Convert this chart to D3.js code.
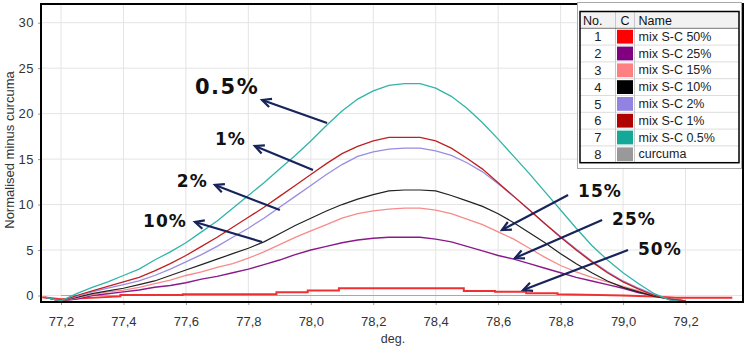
<!DOCTYPE html>
<html><head><meta charset="utf-8">
<script src="https://cdnjs.cloudflare.com/ajax/libs/d3/7.8.5/d3.min.js"></script>
<style>
html,body{margin:0;padding:0;background:#fff;}
svg{display:block;font-family:"Liberation Sans",Arial,sans-serif;}
</style></head>
<body>
<svg id="chart" width="751" height="349"></svg>
<script>
// ---------- DATA ----------
const temps = [77.15,77.20,77.25,77.30,77.35,77.40,77.45,77.50,77.55,77.60,77.65,77.70,77.75,77.80,77.85,77.90,77.95,78.00,78.05,78.10,78.15,78.20,78.25,78.30,78.35,78.40,78.45,78.50,78.55,78.60,78.65,78.70,78.75,78.80,78.85,78.90,78.95,79.00,79.05,79.10,79.15,79.20];
const mix25  = [-0.2,-0.6,-0.4,0.0,0.2,0.4,0.6,0.9,1.1,1.4,1.8,2.1,2.5,2.9,3.4,3.9,4.5,5.0,5.4,5.8,6.1,6.3,6.4,6.4,6.4,6.2,5.9,5.4,4.9,4.4,4.0,3.5,3.0,2.5,2.0,1.6,1.2,0.8,0.3,0.0,-0.4,-0.6];
const mix15  = [-0.2,-0.6,-0.3,0.1,0.4,0.6,0.9,1.3,1.7,2.2,2.6,3.1,3.5,4.1,4.8,5.6,6.4,7.1,7.8,8.5,9.0,9.3,9.5,9.6,9.6,9.4,9.0,8.4,7.8,7.0,6.2,5.2,4.2,3.3,2.6,2.0,1.5,1.0,0.5,0.0,-0.4,-0.6];
const mix10  = [-0.2,-0.6,-0.2,0.2,0.5,0.8,1.2,1.6,2.2,2.8,3.4,4.0,4.6,5.2,5.9,6.8,7.7,8.5,9.3,10.0,10.6,11.1,11.5,11.6,11.6,11.5,11.0,10.4,9.8,9.0,8.0,6.9,5.8,4.6,3.5,2.5,1.6,0.9,0.4,-0.1,-0.4,-0.6];
const mix2   = [-0.2,-0.6,-0.1,0.4,0.8,1.2,1.6,2.2,2.9,3.7,4.5,5.4,6.4,7.4,8.5,9.7,10.9,12.1,13.3,14.4,15.3,15.8,16.1,16.2,16.2,15.9,15.4,14.6,13.6,12.3,10.9,9.4,7.9,6.5,5.1,3.8,2.6,1.6,0.8,0.1,-0.4,-0.6];
const mix1   = [-0.2,-0.6,0.0,0.5,1.0,1.5,2.0,2.7,3.5,4.4,5.4,6.4,7.5,8.6,9.7,10.9,12.1,13.3,14.5,15.6,16.4,17.0,17.4,17.4,17.4,17.0,16.2,15.1,13.9,12.4,10.9,9.4,7.9,6.4,5.0,3.7,2.5,1.5,0.7,0.0,-0.4,-0.6];
const mix05  = [-0.2,-0.6,0.2,0.9,1.5,2.2,2.9,3.9,4.8,5.8,7.0,8.2,9.6,11.0,12.4,13.9,15.4,17.0,18.7,20.3,21.6,22.5,23.1,23.3,23.3,22.8,21.9,20.6,19.0,17.2,15.3,13.4,11.4,9.4,7.4,5.5,3.9,2.5,1.3,0.2,-0.5,-0.7];
// stepped 50% trace (own temperature points)
const temps50 = [77.14,77.20,77.39,77.39,77.59,77.59,77.89,77.89,77.99,77.99,78.09,78.09,78.49,78.49,78.59,78.59,78.69,78.69,78.79,78.79,79.00,79.10,79.17,79.35];
const mix50   = [-0.2,-0.4,-0.1,0.05,0.05,0.15,0.15,0.35,0.35,0.55,0.55,0.8,0.8,0.5,0.5,0.4,0.4,0.25,0.25,0.15,0.0,-0.1,-0.25,-0.25];
const tempsCurcuma = [77.20,79.00];
const curcuma = [0.0,0.0];

const legendNo    = ["1","2","3","4","5","6","7","8"];
const legendNames = ["mix S-C 50%","mix S-C 25%","mix S-C 15%","mix S-C 10%","mix S-C 2%","mix S-C 1%","mix S-C 0.5%","curcuma"];
const legendColors = ["#ff0000","#800080","#ff8080","#000000","#9282e2","#b00000","#14a898","#999999"];

const xTicks = [77.2,77.4,77.6,77.8,78.0,78.2,78.4,78.6,78.8,79.0,79.2];
const yTicks = [0,5,10,15,20,25,30];

const annoLabels = ["0.5%","1%","2%","10%","15%","25%","50%"];
// arrow tail/head in data units [tailT, tailV, headT, headV]
const annoArrows = [
  [78.052,18.97, 77.844,21.50],
  [78.007,13.80, 77.821,16.44],
  [77.901,9.40, 77.693,12.15],
  [77.844,5.88, 77.629,8.08],
  [78.824,11.05, 78.612,7.20],
  [78.933,8.30, 78.654,4.12],
  [79.016,5.00, 78.680,0.60]
];
// label left/baseline in data units
const annoPos = [[77.629,22.16],[77.693,16.55],[77.571,11.93],[77.463,7.53],[78.856,10.83],[78.965,7.75],[79.048,4.45]];
const annoSize = [21,17,17,17,17,17,17];

// ---------- SCALES ----------
const svg = d3.select("#chart");
const x = d3.scaleLinear().domain([77.2,79.2]).range([61,685.5]);
const y = d3.scaleLinear().domain([0,30]).range([295.5,22.7]);
const F = {l:41,t:4,r:743,b:302};

// grid
const g = svg.append("g");
g.selectAll(".vg").data(xTicks).enter().append("line")
  .attr("x1",d=>x(d)).attr("x2",d=>x(d)).attr("y1",F.t).attr("y2",F.b)
  .attr("stroke","#e4e4e4").attr("stroke-width",1);
g.selectAll(".hg").data(yTicks).enter().append("line")
  .attr("x1",F.l).attr("x2",F.r).attr("y1",d=>y(d)).attr("y2",d=>y(d))
  .attr("stroke","#e4e4e4").attr("stroke-width",1);

// axes
const fmt = d=>d3.format(".1f")(d).replace(".",",");
const xa = svg.append("g").attr("transform",`translate(0,${F.b})`)
  .call(d3.axisBottom(x).tickValues(xTicks).tickFormat(fmt).tickSize(3).tickPadding(12));
const ya = svg.append("g").attr("transform",`translate(${F.l},0)`)
  .call(d3.axisLeft(y).tickValues(yTicks).tickSize(3).tickPadding(4));
[xa,ya].forEach(a=>{
  a.select(".domain").remove();
  a.selectAll("line").attr("stroke","#999");
  a.selectAll("text").attr("fill","#333").style("font-size","13px").style("font-family","Liberation Sans, Arial, sans-serif");
});
ya.selectAll("text").attr("letter-spacing","0.5");

svg.append("text").attr("x",393).attr("y",343).attr("text-anchor","middle")
  .attr("fill","#333").style("font-size","12.5px").text("deg.");
svg.append("text").attr("transform","translate(14,150) rotate(-90)").attr("text-anchor","middle")
  .attr("fill","#333").style("font-size","13px").text("Normalised minus curcuma");

// clip
svg.append("clipPath").attr("id","clip").append("rect")
  .attr("x",F.l+1).attr("y",F.t+1).attr("width",F.r-F.l-2).attr("height",F.b-F.t-2);

const line = d3.line().x(d=>x(d[0])).y(d=>y(d[1]));
const plot = svg.append("g").attr("clip-path","url(#clip)");
const series = [
  {t:tempsCurcuma, v:curcuma, c:"#a8a8a8", w:1},
  {t:temps50, v:mix50, c:"#f03030", w:2},
  {t:temps, v:mix25, c:"#8a1a8a", w:1.4},
  {t:temps, v:mix15, c:"#f88a8a", w:1.3},
  {t:temps, v:mix10, c:"#222222", w:1.2},
  {t:temps, v:mix2,  c:"#9a8ce0", w:1.3},
  {t:temps, v:mix1,  c:"#c02020", w:1.3},
  {t:temps, v:mix05, c:"#30b4a8", w:1.3}
];
series.forEach(s=>{
  plot.append("path").datum(s.t.map((t,i)=>[t,s.v[i]]))
    .attr("d",line).attr("fill","none").attr("stroke",s.c).attr("stroke-width",s.w);
});

// frame
svg.append("rect").attr("x",F.l).attr("y",F.t).attr("width",F.r-F.l).attr("height",F.b-F.t)
  .attr("fill","none").attr("stroke","#000").attr("stroke-width",2);

// arrows
const ac = "#17245c";
const ann = svg.append("g");
annoArrows.forEach((a,i)=>{
  const x1=x(a[0]),y1=y(a[1]),x2=x(a[2]),y2=y(a[3]);
  ann.append("line").attr("x1",x1).attr("y1",y1).attr("x2",x2).attr("y2",y2)
    .attr("stroke",ac).attr("stroke-width",2.2);
  const ang=Math.atan2(y1-y2,x1-x2), L=10, s=0.45;
  const p1=[x2+L*Math.cos(ang+s), y2+L*Math.sin(ang+s)];
  const p2=[x2+L*Math.cos(ang-s), y2+L*Math.sin(ang-s)];
  ann.append("path").attr("d",`M${p1[0]},${p1[1]}L${x2},${y2}L${p2[0]},${p2[1]}`)
    .attr("fill","none").attr("stroke",ac).attr("stroke-width",2.2).attr("stroke-linejoin","miter");
  ann.append("text").attr("x",x(annoPos[i][0])).attr("y",y(annoPos[i][1]))
    .attr("fill","#111").style("font-family","DejaVu Sans, Verdana, sans-serif")
    .style("font-weight","bold").style("font-size",annoSize[i]+"px")
    .attr("letter-spacing", i===0?"1.5":"1").text(annoLabels[i]);
});

// legend
const lg = svg.append("g");
const LX0=580, LX1=739, LT=11.5, HH=16.8, RH=16.8, C1=615.5, C2=634.5;
lg.append("rect").attr("x",577.5).attr("y",2.5).attr("width",164).attr("height",166)
  .attr("fill","#fff").attr("stroke","#a8a8a8").attr("stroke-width",1);
lg.append("rect").attr("x",LX0).attr("y",LT).attr("width",LX1-LX0).attr("height",HH)
  .attr("fill","#f2f2f2");
const rowsTop = LT+HH;
legendNo.forEach((n,i)=>{
  const ry = rowsTop + i*RH;
  lg.append("line").attr("x1",LX0).attr("x2",LX1).attr("y1",ry+RH).attr("y2",ry+RH)
    .attr("stroke","#dcdcdc");
  lg.append("rect").attr("x",C1+1.5).attr("y",ry+1.5).attr("width",C2-C1-3).attr("height",RH-3)
    .attr("fill",legendColors[i]);
  lg.append("text").attr("x",(LX0+C1)/2).attr("y",ry+13).attr("text-anchor","middle")
    .attr("fill","#222").style("font-size","13px").text(n);
  lg.append("text").attr("x",C2+4).attr("y",ry+12.5)
    .attr("fill","#222").style("font-size","12.5px").text(legendNames[i]);
});
[C1,C2].forEach(cx=>lg.append("line").attr("x1",cx).attr("x2",cx).attr("y1",LT).attr("y2",rowsTop+8*RH).attr("stroke","#c8c8c8"));
lg.append("line").attr("x1",LX0).attr("x2",LX1).attr("y1",rowsTop).attr("y2",rowsTop).attr("stroke","#777");
lg.append("rect").attr("x",LX0).attr("y",LT).attr("width",LX1-LX0).attr("height",HH+8*RH)
  .attr("fill","none").attr("stroke","#000").attr("stroke-width",1.5);
lg.append("text").attr("x",LX0+3).attr("y",LT+13).attr("fill","#111").style("font-size","12.5px").text("No.");
lg.append("text").attr("x",(C1+C2)/2).attr("y",LT+13).attr("text-anchor","middle").attr("fill","#111").style("font-size","12.5px").text("C");
lg.append("text").attr("x",C2+4).attr("y",LT+13).attr("fill","#111").style("font-size","12.5px").text("Name");
</script>
</body></html>
